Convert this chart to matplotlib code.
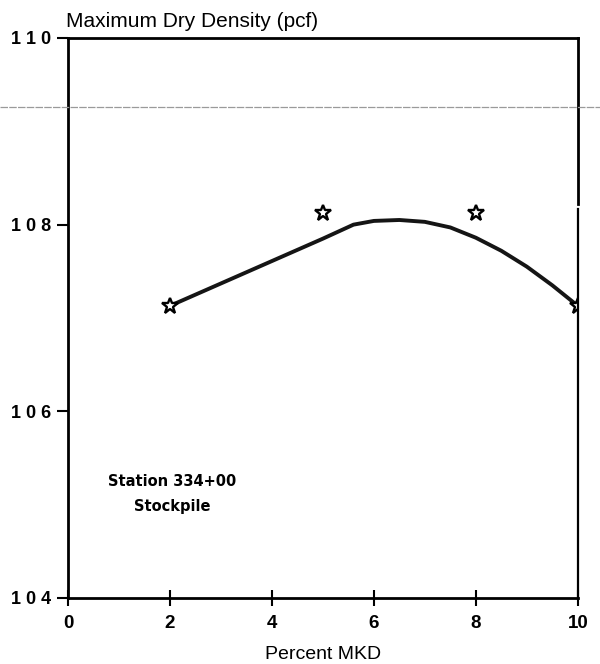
import numpy as np
import matplotlib.pyplot as plt
from matplotlib.lines import Line2D

# measured points (percent MKD vs max dry density)
pct_mkd = [2, 5, 8, 10]
max_density = [107.13, 108.13, 108.13, 107.13]

# smoothed fit curve through the tests
fit_x = [2, 3, 4, 5, 5.6, 6, 6.5, 7, 7.5, 8, 8.5, 9, 9.5, 10]
fit_y = [107.13, 107.37, 107.61, 107.85, 108.0, 108.04, 108.05, 108.03,
         107.97, 107.86, 107.72, 107.55, 107.35, 107.13]

x_ticks = [0, 2, 4, 6, 8, 10]
y_ticks = [104, 106, 108, 110]

plt.rcParams['font.family'] = ['Liberation Sans', 'DejaVu Sans']

fig = plt.figure(figsize=(6.0, 6.64), dpi=100)
ax = fig.add_axes([0.1133, 0.0994, 0.8497, 0.8434])

ax.plot(fit_x, fit_y, color='#151515', lw=2.8, solid_capstyle='round', zorder=2)
ax.plot(pct_mkd, max_density, linestyle='none', marker='*', markersize=12,
        markerfacecolor='white', markeredgecolor='black', markeredgewidth=1.7, zorder=3)

ax.set_xlim(0, 10)
ax.set_ylim(104, 110)
ax.set_xticks(x_ticks)
ax.set_yticks(y_ticks)
ax.set_xticklabels([str(v) for v in x_ticks], fontsize=13.5, fontweight='bold')
ax.set_yticklabels([' '.join(str(v)) for v in y_ticks], fontsize=13, fontweight='bold')
ax.tick_params(axis='x', direction='inout', length=12, width=1.5, pad=6)
ax.tick_params(axis='y', direction='out', length=8, width=1.5, pad=4)

for s in ['left', 'top', 'bottom']:
    ax.spines[s].set_linewidth(2.0)
ax.spines['right'].set_visible(False)
# right border drawn in two pieces with a small break
ax.plot([10, 10], [110, 108.22], color='black', lw=2.0, clip_on=False, zorder=4)
ax.plot([10, 10], [108.17, 104], color='black', lw=1.6, clip_on=False, zorder=4)

ax.set_xlabel('Percent MKD', fontsize=14, labelpad=10)
ax.text(-0.003, 1.012, 'Maximum Dry Density (pcf)', transform=ax.transAxes,
        fontsize=15, ha='left', va='bottom')

ax.text(2.05, 105.25, 'Station 334+00', fontsize=10.5, fontweight='bold',
        ha='center', va='center', family='DejaVu Sans')
ax.text(2.05, 104.98, 'Stockpile', fontsize=10.5, fontweight='bold',
        ha='center', va='center', family='DejaVu Sans')

# faint horizontal rule running across the sheet
fig.add_artist(Line2D([0, 1], [0.839, 0.839], transform=fig.transFigure,
                      color='#9a9a9a', lw=0.9, linestyle=(0, (6, 1))))

fig.savefig('out.png', dpi=100, facecolor='white')
